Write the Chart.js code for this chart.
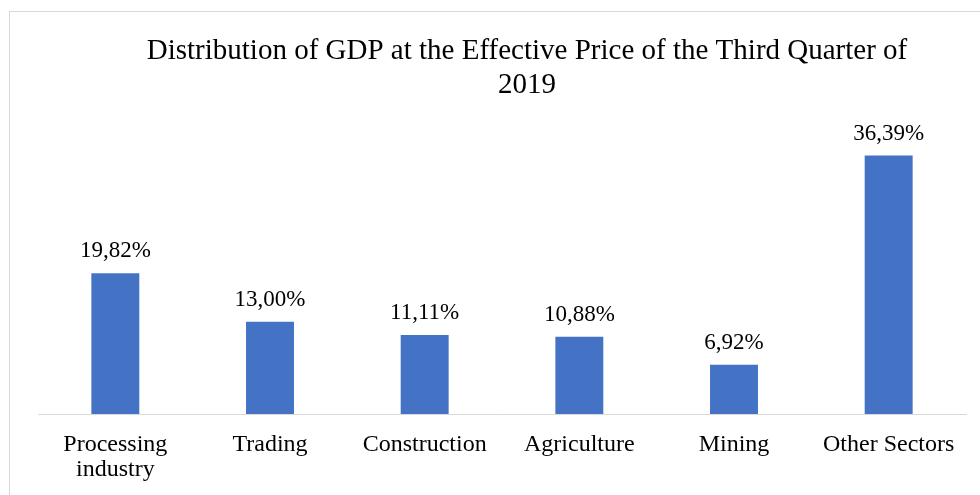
<!DOCTYPE html>
<html>
<head>
<meta charset="utf-8">
<script src="https://cdn.jsdelivr.net/npm/chart.js@4/dist/chart.umd.min.js"></script>
<style>
  html, body { margin: 0; padding: 0; overflow: hidden; background: #fff; }
  #wrap { width: 1096px; height: 495px; position: relative; }
</style>
</head>
<body>
<div id="wrap"><canvas id="c" width="1096" height="495"></canvas></div>
<script>
const titleLines = ["Distribution of GDP at the Effective Price of the Third Quarter of", "2019"];
const categories = [["Processing", "industry"], "Trading", "Construction", "Agriculture", "Mining", "Other Sectors"];
const shares = [19.82, 13.00, 11.11, 10.88, 6.92, 36.39];
const valueLabels = ["19,82%", "13,00%", "11,11%", "10,88%", "6,92%", "36,39%"];

const frameAndLabels = {
  id: 'frameAndLabels',
  beforeDraw(chart) {
    const ctx = chart.ctx;
    ctx.save();
    ctx.fillStyle = '#ffffff';
    ctx.fillRect(0, 0, chart.width, chart.height);
    ctx.strokeStyle = '#d9d9d9';
    ctx.lineWidth = 1;
    ctx.strokeRect(9.5, 11.5, 2000, 2000);
    ctx.restore();
  },
  afterDatasetsDraw(chart) {
    const ctx = chart.ctx;
    const meta = chart.getDatasetMeta(0);
    ctx.save();
    ctx.font = '23px "Liberation Serif", "Times New Roman", serif';
    ctx.fillStyle = '#000000';
    ctx.textAlign = 'center';
    ctx.textBaseline = 'alphabetic';
    meta.data.forEach((bar, i) => {
      ctx.fillText(valueLabels[i], bar.x, bar.y - 16);
    });
    ctx.restore();
  }
};

new Chart(document.getElementById('c'), {
  type: 'bar',
  data: {
    labels: categories,
    datasets: [{
      data: shares,
      backgroundColor: '#4472C4',
      borderWidth: 0,
      categoryPercentage: 1.0,
      barPercentage: 0.31
    }]
  },
  options: {
    responsive: false,
    animation: false,
    devicePixelRatio: 1,
    layout: { padding: { left: 38, right: 80, top: 0, bottom: 0 } },
    plugins: {
      legend: { display: false },
      tooltip: { enabled: false },
      title: {
        display: true,
        text: titleLines,
        color: '#000000',
        font: { family: '"Liberation Serif", "Times New Roman", serif', size: 29, weight: 'normal', lineHeight: 1.17 },
        padding: { top: 34, bottom: 28 }
      }
    },
    scales: {
      x: {
        grid: { display: false, drawTicks: false },
        border: { display: true, color: '#d9d9d9', width: 1 },
        ticks: {
          color: '#000000',
          font: { family: '"Liberation Serif", "Times New Roman", serif', size: 24, lineHeight: 1.05 },
          padding: 18,
          maxRotation: 0,
          autoSkip: false
        },
        afterFit(scale) { scale.height = 81; }
      },
      y: {
        display: true,
        position: 'right',
        min: 0,
        max: 40,
        grid: { display: false, drawTicks: false },
        border: { display: false },
        ticks: { display: false },
        afterFit(scale) { scale.width = 50; }
      }
    }
  },
  plugins: [frameAndLabels]
});
</script>
</body>
</html>
